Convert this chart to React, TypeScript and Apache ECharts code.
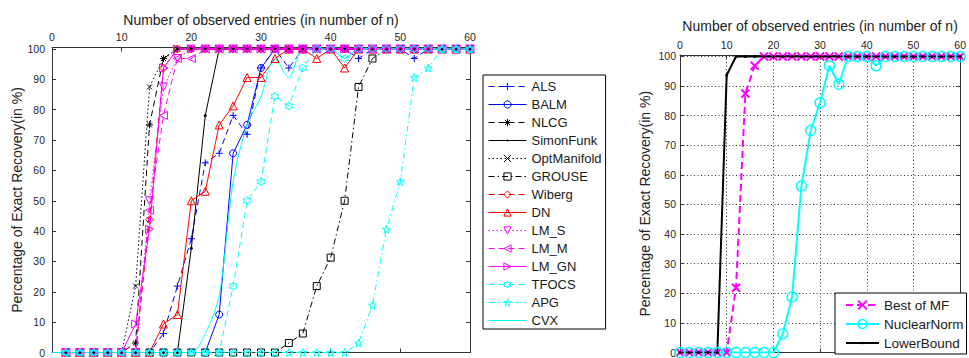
import React, { useEffect, useRef } from 'react';
import * as echarts from 'echarts';

// Number of observed entries (in units of n)
const X_METHODS = [2, 4, 6, 8, 10, 12, 14, 16, 18, 20, 22, 24, 26, 28, 30, 32, 34, 36, 38, 40, 42, 44, 46, 48, 50, 52, 54, 56, 58, 60];
const X_FULL = [0, 2, 4, 6, 8, 10, 12, 14, 16, 18, 20, 22, 24, 26, 28, 30, 32, 34, 36, 38, 40, 42, 44, 46, 48, 50, 52, 54, 56, 58, 60];

// Exact recovery rate (%) per method, on X_METHODS
const ALS = [0, 0, 0, 0, 0, 0, 0, 6.25, 21.88, 37.5, 62.5, 65.63, 78.13, 71.88, 93.75, 100, 93.75, 100, 100, 100, 100, 96.88, 100, 100, 100, 96.88, 100, 100, 100, 100];
const BALM = [0, 0, 0, 0, 0, 0, 0, 0, 0, 0, 0, 12.5, 65.63, 75, 93.75, 100, 100, 100, 100, 100, 100, 100, 100, 100, 100, 100, 100, 100, 100, 100];
const NLCG = [0, 0, 0, 0, 0, 3.13, 75, 96.88, 100, 100, 100, 100, 100, 100, 100, 100, 100, 100, 100, 100, 100, 100, 100, 100, 100, 100, 100, 100, 100, 100];
const SIMONFUNK = [0, 0, 0, 0, 0, 0, 0, 0, 0, 34.38, 78.13, 100, 100, 100, 100, 100, 100, 100, 100, 100, 100, 100, 100, 100, 100, 100, 100, 100, 100, 100];
const OPTMANIFOLD = [0, 0, 0, 0, 0, 21.88, 87.5, 96.88, 100, 100, 100, 100, 100, 100, 100, 100, 100, 100, 100, 100, 100, 100, 100, 100, 100, 100, 100, 100, 100, 100];
const GROUSE = [0, 0, 0, 0, 0, 0, 0, 0, 0, 0, 0, 0, 0, 0, 0, 0, 3.13, 6.25, 21.88, 31.25, 50, 87.5, 96.88, 100, 100, 100, 100, 100, 100, 100];
const WIBERG = [0, 0, 0, 0, 0, 0, 43.75, 93.75, 100, 100, 100, 100, 100, 100, 100, 100, 100, 100, 100, 100, 100, 100, 100, 100, 100, 100, 100, 100, 100, 100];
const DN = [0, 0, 0, 0, 0, 0, 0, 9.38, 12.5, 50, 53.13, 75, 81.25, 90.63, 90.63, 96.88, 100, 100, 96.88, 100, 93.75, 100, 100, 100, 100, 100, 100, 100, 100, 100];
const LM_S = [0, 0, 0, 0, 0, 0, 50, 87.5, 96.88, 100, 100, 100, 100, 100, 100, 100, 100, 100, 100, 100, 100, 100, 100, 100, 100, 100, 100, 100, 100, 100];
const LM_M = [0, 0, 0, 0, 0, 0, 46.88, 78.13, 96.88, 96.88, 100, 100, 100, 100, 100, 100, 100, 100, 100, 100, 100, 100, 100, 100, 100, 100, 100, 100, 100, 100];
const LM_GN = [0, 0, 0, 0, 0, 9.38, 40.63, 93.75, 100, 100, 100, 100, 100, 100, 100, 100, 100, 100, 100, 100, 100, 100, 100, 100, 100, 100, 100, 100, 100, 100];
const TFOCS = [0, 0, 0, 0, 0, 0, 0, 0, 0, 0, 0, 0, 21.88, 50, 56.25, 84.38, 81.25, 93.75, 100, 100, 96.88, 100, 100, 100, 100, 100, 100, 100, 100, 100];
const APG = [0, 0, 0, 0, 0, 0, 0, 0, 0, 0, 0, 0, 0, 0, 0, 0, 0, 0, 0, 0, 0, 3.13, 15.63, 40.63, 56.25, 90.63, 93.75, 100, 100, 100];

// Series sampled on X_FULL
const CVX = [0, 0, 0, 0, 0, 0, 0, 0, 0, 0, 0, 6.25, 18.75, 56.25, 75, 84.38, 96.88, 90.63, 100, 100, 100, 96.88, 100, 100, 100, 100, 100, 100, 100, 100, 100];
const BEST_OF_MF = [0, 0, 0, 0, 0, 0, 21.88, 87.5, 96.88, 100, 100, 100, 100, 100, 100, 100, 100, 100, 100, 100, 100, 100, 100, 100, 100, 100, 100, 100, 100, 100, 100];
const NUCLEAR_NORM = [0, 0, 0, 0, 0, 0, 0, 0, 0, 0, 0, 6.25, 18.75, 56.25, 75, 84.38, 96.88, 90.63, 100, 100, 100, 96.88, 100, 100, 100, 100, 100, 100, 100, 100, 100];
const LOWER_BOUND = [0, 0, 0, 0, 0, 93.75, 100, 100, 100, 100, 100, 100, 100, 100, 100, 100, 100, 100, 100, 100, 100, 100, 100, 100, 100, 100, 100, 100, 100, 100, 100];

const X_TITLE = 'Number of observed entries (in number of n)';
const Y_TITLE = 'Percentage of Exact Recovery(in %)';

const FONT = "'Liberation Sans', Arial, Helvetica, sans-serif";
const AXIS = '#333333';
const TICK_TEXT = '#262626';

const BLUE = '#0000ff';
const BLACK = '#000000';
const RED = '#ff0000';
const MAGENTA = '#ff00ff';
const CYAN = '#00ffff';

const SOLID = 'solid';
const DASHED = [6, 4];
const DOTTED = [1.5, 2.5];
const DASHDOT = [6, 3, 1.5, 3];

// Marker outlines
const SYM = {
  plus: 'path://M0,5L10,5M5,0L5,10',
  asterisk: 'path://M0,5L10,5M5,0L5,10M1.5,1.5L8.5,8.5M1.5,8.5L8.5,1.5',
  cross: 'path://M0,0L10,10M0,10L10,0',
  // small dot kept at ~30% of the symbol box by the two corner points
  dot: 'path://M0,0L0,0M10,10L10,10M5,3.5A1.5,1.5,0,1,1,5,6.5A1.5,1.5,0,1,1,5,3.5Z',
  triDown: 'path://M0,0L10,0L5,10Z',
  triLeft: 'path://M10,0L10,10L0,5Z',
  triRight: 'path://M0,0L10,5L0,10Z',
  hexagram: 'path://M5,0L6.44,2.5L9.33,2.5L7.89,5L9.33,7.5L6.44,7.5L5,10L3.56,7.5L0.67,7.5L2.11,5L0.67,2.5L3.56,2.5Z',
  pentagram: 'path://M5,0L6.12,3.45L9.76,3.45L6.82,5.59L7.94,9.05L5,6.91L2.06,9.05L3.18,5.59L0.24,3.45L3.88,3.45Z',
};

type Spec = {
  name: string;
  xs: number[];
  ys: number[];
  color: string;
  dash: any;
  symbol: string;
  size?: number;
  filled?: boolean;
  width?: number;
  border?: number;
  smooth?: number;
};

const LEFT_SPECS: Spec[] = [
  { name: 'ALS', xs: X_METHODS, ys: ALS, color: BLUE, dash: DASHED, symbol: SYM.plus, size: 7 },
  { name: 'BALM', xs: X_METHODS, ys: BALM, color: BLUE, dash: SOLID, symbol: 'circle', size: 7 },
  { name: 'NLCG', xs: X_METHODS, ys: NLCG, color: BLACK, dash: DASHED, symbol: SYM.asterisk, size: 7 },
  { name: 'SimonFunk', xs: X_METHODS, ys: SIMONFUNK, color: BLACK, dash: SOLID, symbol: SYM.dot, size: 10, filled: true },
  { name: 'OptManifold', xs: X_METHODS, ys: OPTMANIFOLD, color: BLACK, dash: DOTTED, symbol: SYM.cross, size: 5 },
  { name: 'GROUSE', xs: X_METHODS, ys: GROUSE, color: BLACK, dash: DASHDOT, symbol: 'rect', size: 7 },
  { name: 'Wiberg', xs: X_METHODS, ys: WIBERG, color: RED, dash: DASHED, symbol: 'diamond', size: 8 },
  { name: 'DN', xs: X_METHODS, ys: DN, color: RED, dash: SOLID, symbol: 'triangle', size: 8 },
  { name: 'LM_S', xs: X_METHODS, ys: LM_S, color: MAGENTA, dash: DOTTED, symbol: SYM.triDown, size: 8 },
  { name: 'LM_M', xs: X_METHODS, ys: LM_M, color: MAGENTA, dash: DASHED, symbol: SYM.triLeft, size: 8 },
  { name: 'LM_GN', xs: X_METHODS, ys: LM_GN, color: MAGENTA, dash: SOLID, symbol: SYM.triRight, size: 8 },
  { name: 'TFOCS', xs: X_METHODS, ys: TFOCS, color: CYAN, dash: DASHED, symbol: SYM.hexagram, size: 8 },
  { name: 'APG', xs: X_METHODS, ys: APG, color: CYAN, dash: DASHDOT, symbol: SYM.pentagram, size: 8 },
  { name: 'CVX', xs: X_FULL, ys: CVX, color: CYAN, dash: SOLID, symbol: 'none', smooth: 0.3 },
];

const RIGHT_SPECS: Spec[] = [
  { name: 'Best of MF', xs: X_FULL, ys: BEST_OF_MF, color: MAGENTA, dash: [7, 4], symbol: SYM.cross, size: 8, width: 2, border: 2 },
  { name: 'NuclearNorm', xs: X_FULL, ys: NUCLEAR_NORM, color: CYAN, dash: SOLID, symbol: 'circle', size: 10, width: 2, border: 1.5 },
  { name: 'LowerBound', xs: X_FULL, ys: LOWER_BOUND, color: BLACK, dash: SOLID, symbol: SYM.dot, size: 10, filled: true, width: 2 },
];

function markerStyle(s: Spec) {
  if (s.symbol === 'none') return { color: 'rgba(0,0,0,0)', borderColor: 'rgba(0,0,0,0)', borderWidth: 0 };
  return s.filled
    ? { color: s.color, borderColor: s.color, borderWidth: 0 }
    : { color: 'rgba(0,0,0,0)', borderColor: s.color, borderWidth: s.border ?? 1 };
}

function toSeries(s: Spec, axis: number) {
  return {
    type: 'line',
    name: s.name,
    xAxisIndex: axis,
    yAxisIndex: axis,
    data: s.xs.map((x, i) => [x, s.ys[i]]),
    symbol: s.symbol,
    symbolSize: s.size ?? 7,
    showAllSymbol: true,
    smooth: s.smooth ?? false,
    lineStyle: { color: s.color, width: s.width ?? 1, type: s.dash },
    itemStyle: markerStyle(s),
    emphasis: { disabled: true },
  };
}

function toLegendItem(s: Spec) {
  return {
    name: s.name,
    itemStyle: markerStyle(s),
    lineStyle: { color: s.color, width: s.width ?? 1, type: s.dash },
  };
}

function xAxes(gridIndex: number, withGrid: boolean, nameGap: number) {
  const common = {
    gridIndex,
    type: 'value',
    min: 0,
    max: 60,
    interval: 10,
    axisLine: { show: true, onZero: false, lineStyle: { color: AXIS, width: 1 } },
    axisTick: { show: true, inside: true, length: 4, lineStyle: { color: AXIS } },
  };
  return [
    {
      ...common,
      position: 'top',
      name: X_TITLE,
      nameLocation: 'middle',
      nameGap,
      nameTextStyle: { fontSize: 14, color: '#222', fontFamily: FONT },
      axisLabel: { show: true, margin: 5, color: TICK_TEXT, fontSize: 10.5, fontFamily: FONT },
      splitLine: { show: withGrid, lineStyle: { color: '#333', type: [1, 2.5], width: 1 } },
    },
    {
      ...common,
      position: 'bottom',
      axisLabel: { show: false },
      splitLine: { show: false },
    },
  ];
}

function yAxes(gridIndex: number, withGrid: boolean, labelMargin: number) {
  const common = {
    gridIndex,
    type: 'value',
    min: 0,
    max: 100.5,
    interval: 10,
    axisLine: { show: true, onZero: false, lineStyle: { color: AXIS, width: 1 } },
    axisTick: { show: true, inside: true, length: 4, lineStyle: { color: AXIS } },
  };
  return [
    {
      ...common,
      position: 'left',
      name: Y_TITLE,
      nameLocation: 'middle',
      nameGap: 28,
      nameRotate: 90,
      nameTextStyle: { fontSize: 14, color: '#222', fontFamily: FONT },
      axisLabel: {
        show: true,
        margin: labelMargin,
        color: TICK_TEXT,
        fontSize: 10.5,
        fontFamily: FONT,
        formatter: (v: number) => (v % 10 === 0 ? String(v) : ''),
      },
      splitLine: { show: withGrid, lineStyle: { color: '#333', type: [1, 2.5], width: 1 } },
    },
    {
      ...common,
      position: 'right',
      axisLabel: { show: false },
      splitLine: { show: false },
    },
  ];
}

export default function App() {
  const ref = useRef<HTMLDivElement>(null);

  useEffect(() => {
    if (!ref.current) return;
    const chart = echarts.init(ref.current, undefined, { renderer: 'svg' });

    const legendText = { fontSize: 13, color: '#1a1a1a', fontFamily: FONT };

    chart.setOption({
      animation: false,
      backgroundColor: '#ffffff',
      grid: [
        { left: 52, top: 47.5, width: 418, height: 308.5, containLabel: false },
        { left: 680, top: 55, width: 292, height: 301, containLabel: false },
      ],
      xAxis: [...xAxes(0, false, 20), ...xAxes(1, true, 22)],
      yAxis: [...yAxes(0, false, 7), ...yAxes(1, true, 4)],
      legend: [
        {
          data: LEFT_SPECS.map(toLegendItem),
          orient: 'vertical',
          left: 483,
          top: 75,
          itemWidth: 38,
          itemHeight: 9,
          itemGap: 5,
          padding: [5, 4, 2, 5],
          backgroundColor: '#ffffff',
          borderColor: '#000000',
          borderWidth: 1,
          borderRadius: 0,
          selectedMode: false,
          textStyle: legendText,
        },
        {
          data: RIGHT_SPECS.map(toLegendItem),
          orient: 'vertical',
          left: 835,
          top: 293,
          itemWidth: 33,
          itemHeight: 11,
          itemGap: 5,
          padding: [5, 3, 4, 10],
          backgroundColor: '#ffffff',
          borderColor: '#000000',
          borderWidth: 1,
          borderRadius: 0,
          selectedMode: false,
          textStyle: { ...legendText, fontSize: 13.5 },
        },
      ],
      series: [...LEFT_SPECS.map((s) => toSeries(s, 0)), ...RIGHT_SPECS.map((s) => toSeries(s, 2))],
    });

    return () => chart.dispose();
  }, []);

  return (
    <div
      ref={ref}
      style={{ position: 'absolute', left: 0, top: 0, width: 969, height: 358, background: '#fff' }}
    />
  );
}
